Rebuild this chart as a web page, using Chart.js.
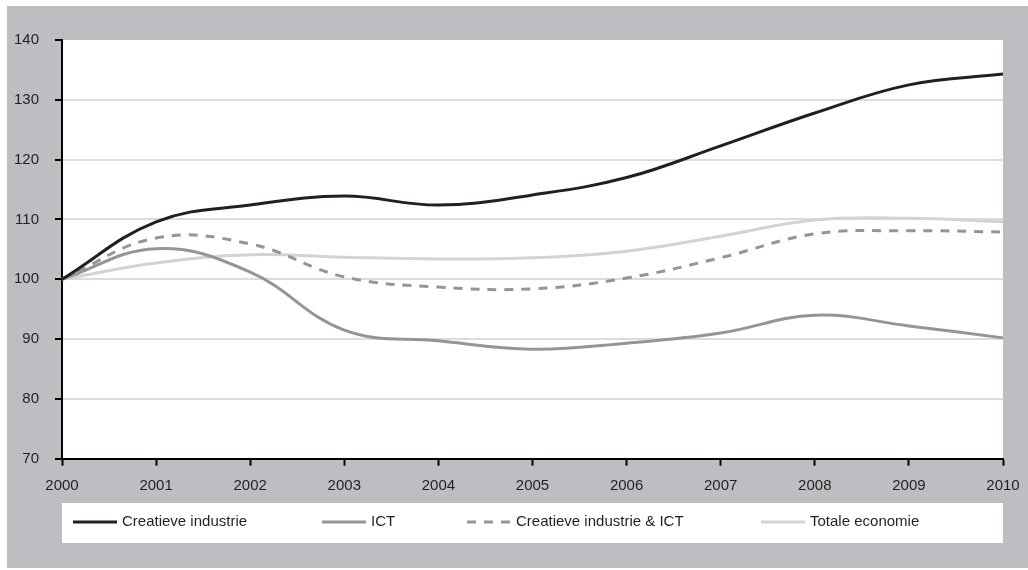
<!DOCTYPE html>
<html>
<head>
<meta charset="utf-8">
<script src="https://cdn.jsdelivr.net/npm/chart.js@4/dist/chart.umd.min.js"></script>
<style>
  html, body { margin: 0; padding: 0; background: #fff; }
  #frame { position: absolute; left: 7px; top: 6px; width: 1021px; height: 562px; background: #bdbec2; }
  #wrap { position: absolute; left: 0; top: 0; width: 1028px; height: 570px; }
</style>
</head>
<body>
<div id="frame"></div>
<div id="wrap"><canvas id="lineChart" width="1028" height="570"></canvas></div>
<script>
// data
var years = ['2000', '2001', '2002', '2003', '2004', '2005', '2006', '2007', '2008', '2009', '2010'];
var creatieve = [100, 109.6, 112.4, 113.9, 112.4, 114.1, 117.0, 122.3, 127.8, 132.5, 134.3];
var ict = [100, 105.1, 101.2, 91.5, 89.7, 88.3, 89.3, 91.0, 94.0, 92.2, 90.2];
var creatieveIct = [100, 106.9, 105.9, 100.4, 98.7, 98.4, 100.2, 103.6, 107.6, 108.1, 107.9];
var totale = [100, 102.7, 104.1, 103.7, 103.4, 103.6, 104.7, 107.2, 109.9, 110.2, 109.6];
var yTicks = [70, 80, 90, 100, 110, 120, 130, 140];

var fontFam = '"Liberation Sans", Arial, sans-serif';
var textCol = '#231f20';

// white plot area + custom legend strip
var backdrop = {
    id: 'backdrop',
    beforeDraw: function (chart) {
        var c = chart.ctx, a = chart.chartArea;
        c.save();
        c.fillStyle = '#fff';
        c.fillRect(a.left, a.top, a.right - a.left, a.bottom - a.top);
        c.fillRect(a.left, 503, a.right - a.left, 40);
        c.restore();
    },
    afterDraw: function (chart) {
        var c = chart.ctx;
        var xs = [73, 322, 467, 761];
        var y = 522;
        c.save();
        c.font = '15px ' + fontFam;
        c.textBaseline = 'middle';
        c.fillStyle = textCol;
        chart.data.datasets.forEach(function (ds, i) {
            c.beginPath();
            c.strokeStyle = ds.borderColor;
            c.lineWidth = ds.borderWidth;
            c.setLineDash(ds.borderDash || []);
            c.moveTo(xs[i], y);
            c.lineTo(xs[i] + 44, y);
            c.stroke();
            c.setLineDash([]);
            c.fillText(ds.label, xs[i] + 49, y);
        });
        c.restore();
    }
};

var ctx = document.getElementById('lineChart').getContext('2d');
var myChart = new Chart(ctx, {
    type: 'line',
    data: {
        labels: years,
        datasets: [{
            label: 'Creatieve industrie',
            data: creatieve,
            borderColor: '#231f20',
            borderWidth: 3
        }, {
            label: 'ICT',
            data: ict,
            borderColor: '#939598',
            borderWidth: 3
        }, {
            label: 'Creatieve industrie & ICT',
            data: creatieveIct,
            borderColor: '#939598',
            borderWidth: 3,
            borderDash: [9, 8]
        }, {
            label: 'Totale economie',
            data: totale,
            borderColor: '#d1d3d4',
            borderWidth: 3
        }]
    },
    options: {
        responsive: false,
        animation: false,
        layout: { padding: { top: 40, right: 25, left: 0, bottom: 0 } },
        elements: {
            point: { radius: 0 },
            line: { tension: 0.4, fill: false }
        },
        plugins: {
            legend: { display: false },
            tooltip: { enabled: false }
        },
        scales: {
            x: {
                offset: false,
                afterFit: function (s) { s.height = 111.3; s.paddingRight = 0; s.paddingLeft = 0; },
                grid: { drawOnChartArea: false, tickLength: 7, tickColor: '#000', tickWidth: 2 },
                border: { color: '#000', width: 2 },
                ticks: { color: textCol, font: { family: fontFam, size: 15 }, padding: 11, maxRotation: 0 }
            },
            y: {
                min: 70,
                max: 140,
                afterFit: function (s) { s.width = 62; },
                afterBuildTicks: function (s) { s.ticks = yTicks.map(function (v) { return { value: v }; }); },
                grid: {
                    color: function (c) { return (c.tick && (c.tick.value === 140 || c.tick.value === 70)) ? 'rgba(0,0,0,0)' : '#dcdcdc'; },
                    lineWidth: 2,
                    tickLength: 7,
                    tickColor: '#000',
                    tickWidth: 2
                },
                border: { color: '#000', width: 2 },
                ticks: { color: textCol, font: { family: fontFam, size: 15 }, padding: 16 }
            }
        }
    },
    plugins: [backdrop]
});
</script>
</body>
</html>
